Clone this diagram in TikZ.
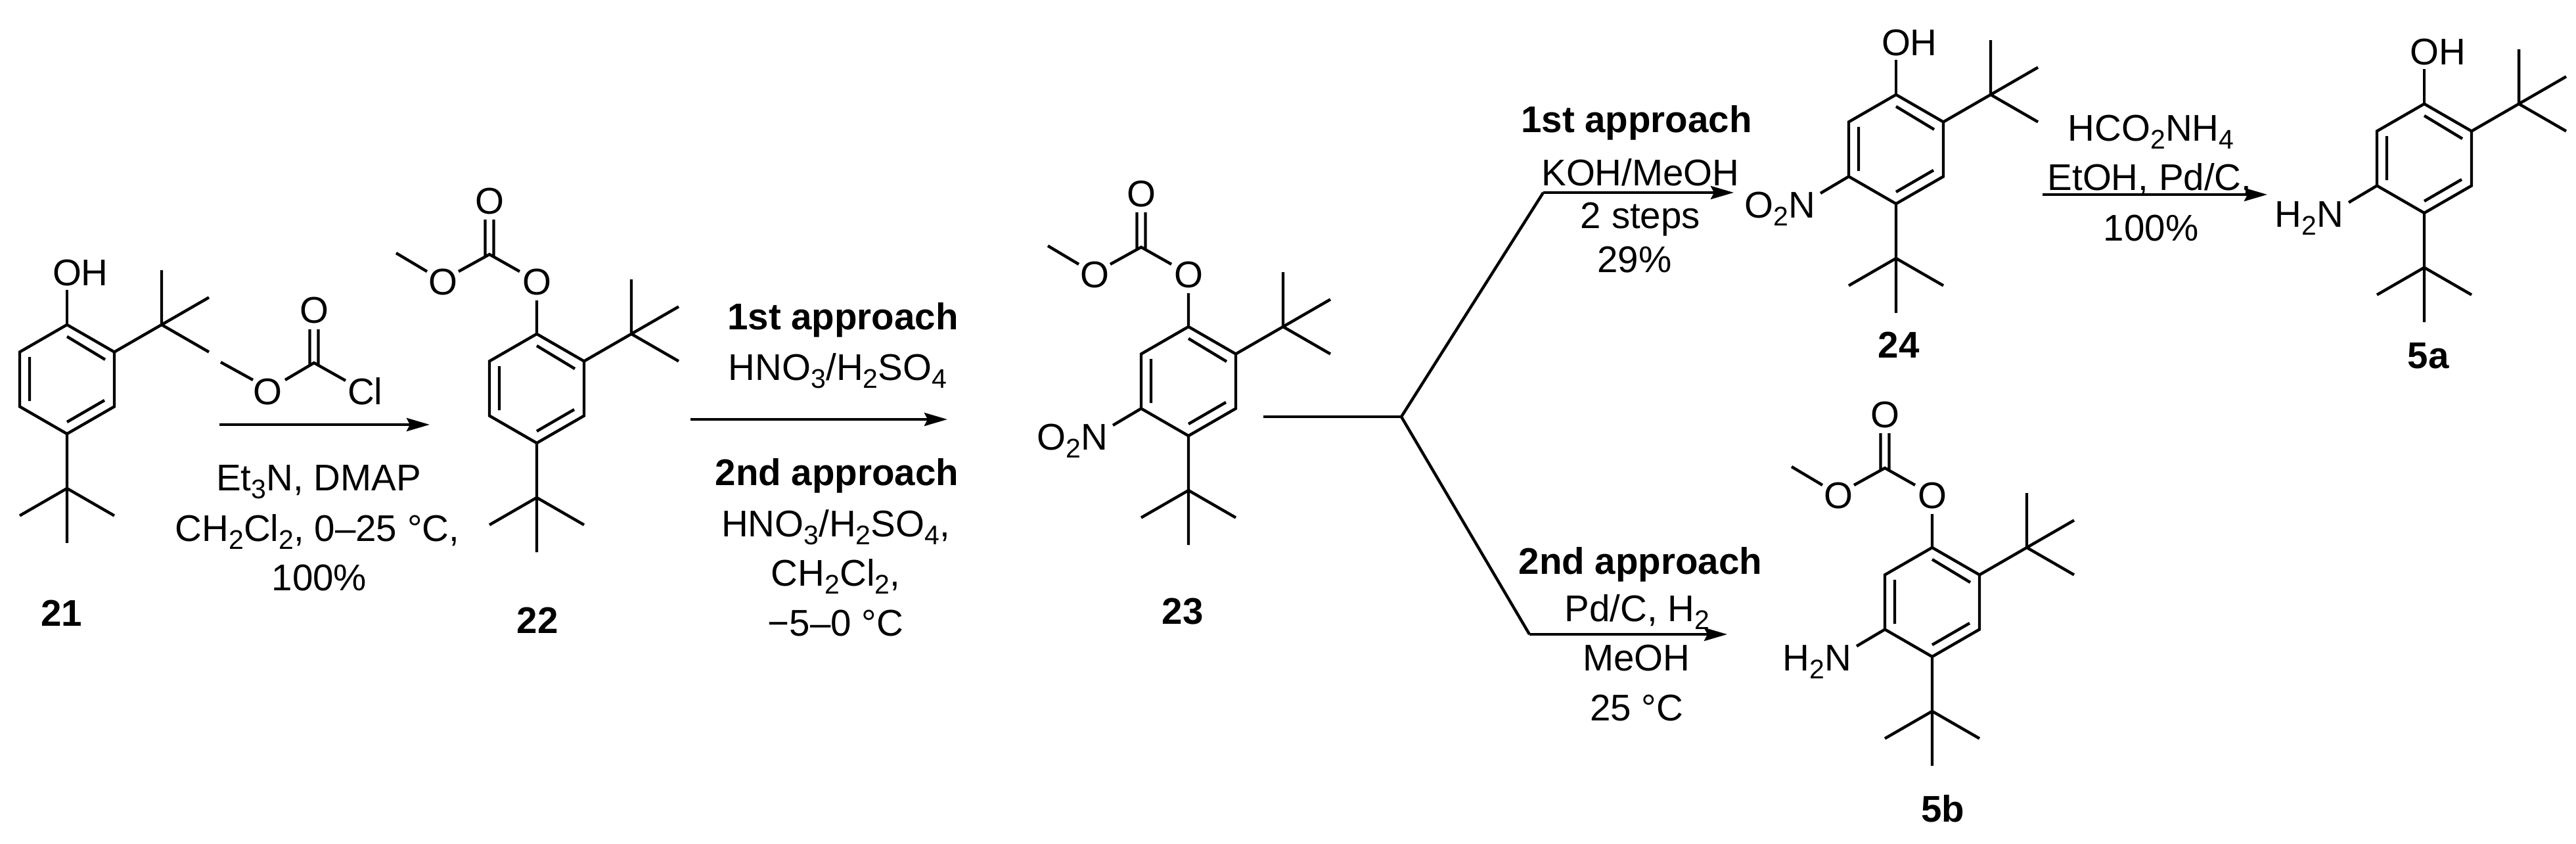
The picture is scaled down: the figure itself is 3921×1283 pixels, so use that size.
\documentclass[tikz,border=0pt]{standalone}
\usepackage{fontspec}
\setmainfont{Liberation Sans}
\usetikzlibrary{arrows.meta}
\newcommand\chemsub[1]{\raisebox{-12pt}{\fontsize{41}{41}\selectfont #1}}
\newcommand\bigfont{\fontsize{56.5}{60}\selectfont}
\tikzset{
  x=1pt,y=-1pt,
  bond/.style={line width=4.4pt,line cap=butt,line join=miter,black},
  rxn/.style={line width=4.4pt,black,-{Stealth[length=35pt,width=20pt,inset=5pt]}},
  fork/.style={line width=4.4pt,black,line join=round},
  txt/.style={inner sep=0pt,outer sep=0pt,anchor=base,font=\bigfont,text=black},
  lbl/.style={txt,font=\bigfont\bfseries}
}
% aromatic ring with its top carbon at the scope origin
\newcommand\arene{%
  \coordinate (r1) at (0,0);
  \coordinate (r2) at (72,41.5);
  \coordinate (r3) at (72,124.5);
  \coordinate (r4) at (0,166);
  \coordinate (r5) at (-72,124.5);
  \coordinate (r6) at (-72,41.5);
  \coordinate (d1a) at (0,18);   \coordinate (d1b) at (58,53);
  \coordinate (d2a) at (-57,49); \coordinate (d2b) at (-57,116);
  \coordinate (d3a) at (0,148);  \coordinate (d3b) at (57,115);
  \draw[bond] (r1)--(r2)--(r3)--(r4)--(r5)--(r6)--cycle;
  \draw[bond] (d1a)--(d1b) (d2a)--(d2b) (d3a)--(d3b);
  % tert-butyl groups
  \coordinate (qr) at (144,0);
  \coordinate (qr1) at (144,-83);
  \coordinate (qr2) at (216,-41.5);
  \coordinate (qr3) at (216,41.5);
  \draw[bond] (r2)--(qr) (qr)--(qr1) (qr)--(qr2) (qr)--(qr3);
  \coordinate (qb) at (0,249);
  \coordinate (qb1) at (-72,290.5);
  \coordinate (qb2) at (72,290.5);
  \coordinate (qb3) at (0,332);
  \draw[bond] (r4)--(qb) (qb)--(qb1) (qb)--(qb2) (qb)--(qb3);
}
\newcommand\hydroxy{%
  \node[txt,anchor=base west] (oh) at (-22,-60) {OH};
  \coordinate (ohb) at (0,-53);
  \draw[bond] (r1)--(ohb);
}
\newcommand\carbonate{%
  \node[txt] (o1) at (0,-60) {O};
  \node[txt] (o2) at (-143,-60) {O};
  \node[txt] (o3) at (-72,-183) {O};
  \coordinate (c) at (-72,-121);
  \coordinate (e1) at (0,-51);
  \coordinate (e2) at (-26,-95);
  \coordinate (e3) at (-119,-95);
  \coordinate (e4) at (-167,-95);
  \coordinate (e5) at (-214,-123);
  \coordinate (ca) at (-78.5,-118);
  \coordinate (cb) at (-65.5,-118);
  \coordinate (ta) at (-78.5,-174);
  \coordinate (tb) at (-65.5,-174);
  \draw[bond] (r1)--(e1) (e2)--(c)--(e3) (e4)--(e5) (ca)--(ta) (cb)--(tb);
}
\newcommand\subst[1]{%
  \node[txt,anchor=base east] (sub) at (-123,187) {#1};
  \coordinate (subb) at (-115,150);
  \draw[bond] (r5)--(subb);
}
\begin{document}
\begin{tikzpicture}
\useasboundingbox (0,0) rectangle (3921,1283);
\fill[white] (0,0) rectangle (3921,1283);

% 21
\begin{scope}[shift={(102,494)},name prefix=a-]
  \arene \hydroxy
\end{scope}
\node[lbl] (n21) at (94,952) {21};

% methyl chloroformate
\begin{scope}[shift={(478,552)},name prefix=f-]
  \coordinate (c) at (0,0);
  \node[txt] (oa) at (0,-61) {O};
  \node[txt] (ob) at (-71,63) {O};
  \node[txt,anchor=base west] (cl) at (51,63) {Cl};
  \coordinate (e1) at (-44,26);
  \coordinate (e2) at (-93,26);
  \coordinate (e3) at (-142,-1);
  \coordinate (e4) at (48,27);
  \coordinate (ca) at (-6.5,3);
  \coordinate (cb) at (6.5,3);
  \coordinate (ta) at (-6.5,-51);
  \coordinate (tb) at (6.5,-51);
  \draw[bond] (e1)--(c)--(e4) (e2)--(e3) (ca)--(ta) (cb)--(tb);
\end{scope}

% arrow 21 -> 22
\coordinate (s1) at (334,646);
\coordinate (t1) at (654,646);
\draw[rxn] (s1)--(t1);
\node[txt] (r1a) at (485,746) {Et\chemsub{3}N, DMAP};
\node[txt] (r1b) at (483,823) {CH\chemsub{2}Cl\chemsub{2}, 0–25 °C,};
\node[txt] (r1c) at (486,898) {100\%};

% 22
\begin{scope}[shift={(817,508)},name prefix=b-]
  \arene \carbonate
\end{scope}
\node[lbl] (n22) at (818,963) {22};

% arrow 22 -> 23
\coordinate (s2) at (1051,638);
\coordinate (t2) at (1442,638);
\draw[rxn] (s2)--(t2);
\node[lbl] (r2a) at (1283,501) {1st approach};
\node[txt] (r2b) at (1275,578) {HNO\chemsub{3}/H\chemsub{2}SO\chemsub{4}};
\node[lbl] (r2c) at (1274,738) {2nd approach};
\node[txt] (r2d) at (1272,816) {HNO\chemsub{3}/H\chemsub{2}SO\chemsub{4},};
\node[txt] (r2e) at (1272,891) {CH\chemsub{2}Cl\chemsub{2},};
\node[txt] (r2f) at (1272,967) {−5–0 °C};

% 23
\begin{scope}[shift={(1809,497)},name prefix=c-]
  \arene \carbonate \subst{O\chemsub{2}N}
\end{scope}
\node[lbl] (n23) at (1800,949) {23};

% forked connector
\coordinate (fs) at (1923,634);
\coordinate (fj) at (2133,634);
\coordinate (fu) at (2349,293);
\coordinate (fd) at (2328,965);
\coordinate (tu) at (2639,293);
\coordinate (td) at (2629,965);
\draw[fork] (fs)--(fj);
\draw[fork] (fj)--(fu);
\draw[fork] (fj)--(fd);
\draw[rxn] (fu)--(tu);
\draw[rxn] (fd)--(td);

\node[lbl] (r3a) at (2491,201) {1st approach};
\node[txt] (r3b) at (2497,282) {KOH/MeOH};
\node[txt] (r3c) at (2497,347) {2 steps};
\node[txt] (r3d) at (2488,414) {29\%};

\node[lbl] (r4a) at (2497,873.5) {2nd approach};
\node[txt] (r4b) at (2492,945) {Pd/C, H\chemsub{2}};
\node[txt] (r4c) at (2491,1020) {MeOH};
\node[txt] (r4d) at (2491,1096.5) {25 °C};

% 24
\begin{scope}[shift={(2886,144)},name prefix=d-]
  \arene \hydroxy \subst{O\chemsub{2}N}
\end{scope}
\node[lbl] (n24) at (2890,544) {24};

% arrow 24 -> 5a
\coordinate (s5) at (3109,296);
\coordinate (t5) at (3451,296);
\draw[rxn] (s5)--(t5);
\node[txt] (r5a) at (3274,214.6) {HCO\chemsub{2}NH\chemsub{4}};
\node[txt] (r5b) at (3272,289) {EtOH, Pd/C,};
\node[txt] (r5c) at (3274,366) {100\%};

% 5a
\begin{scope}[shift={(3690,158)},name prefix=e-]
  \arene \hydroxy \subst{H\chemsub{2}N}
\end{scope}
\node[lbl] (n5a) at (3696,560.5) {5a};

% 5b
\begin{scope}[shift={(2941,833)},name prefix=g-]
  \arene \carbonate \subst{H\chemsub{2}N}
\end{scope}
\node[lbl] (n5b) at (2957,1250) {5b};
\end{tikzpicture}
\end{document}
